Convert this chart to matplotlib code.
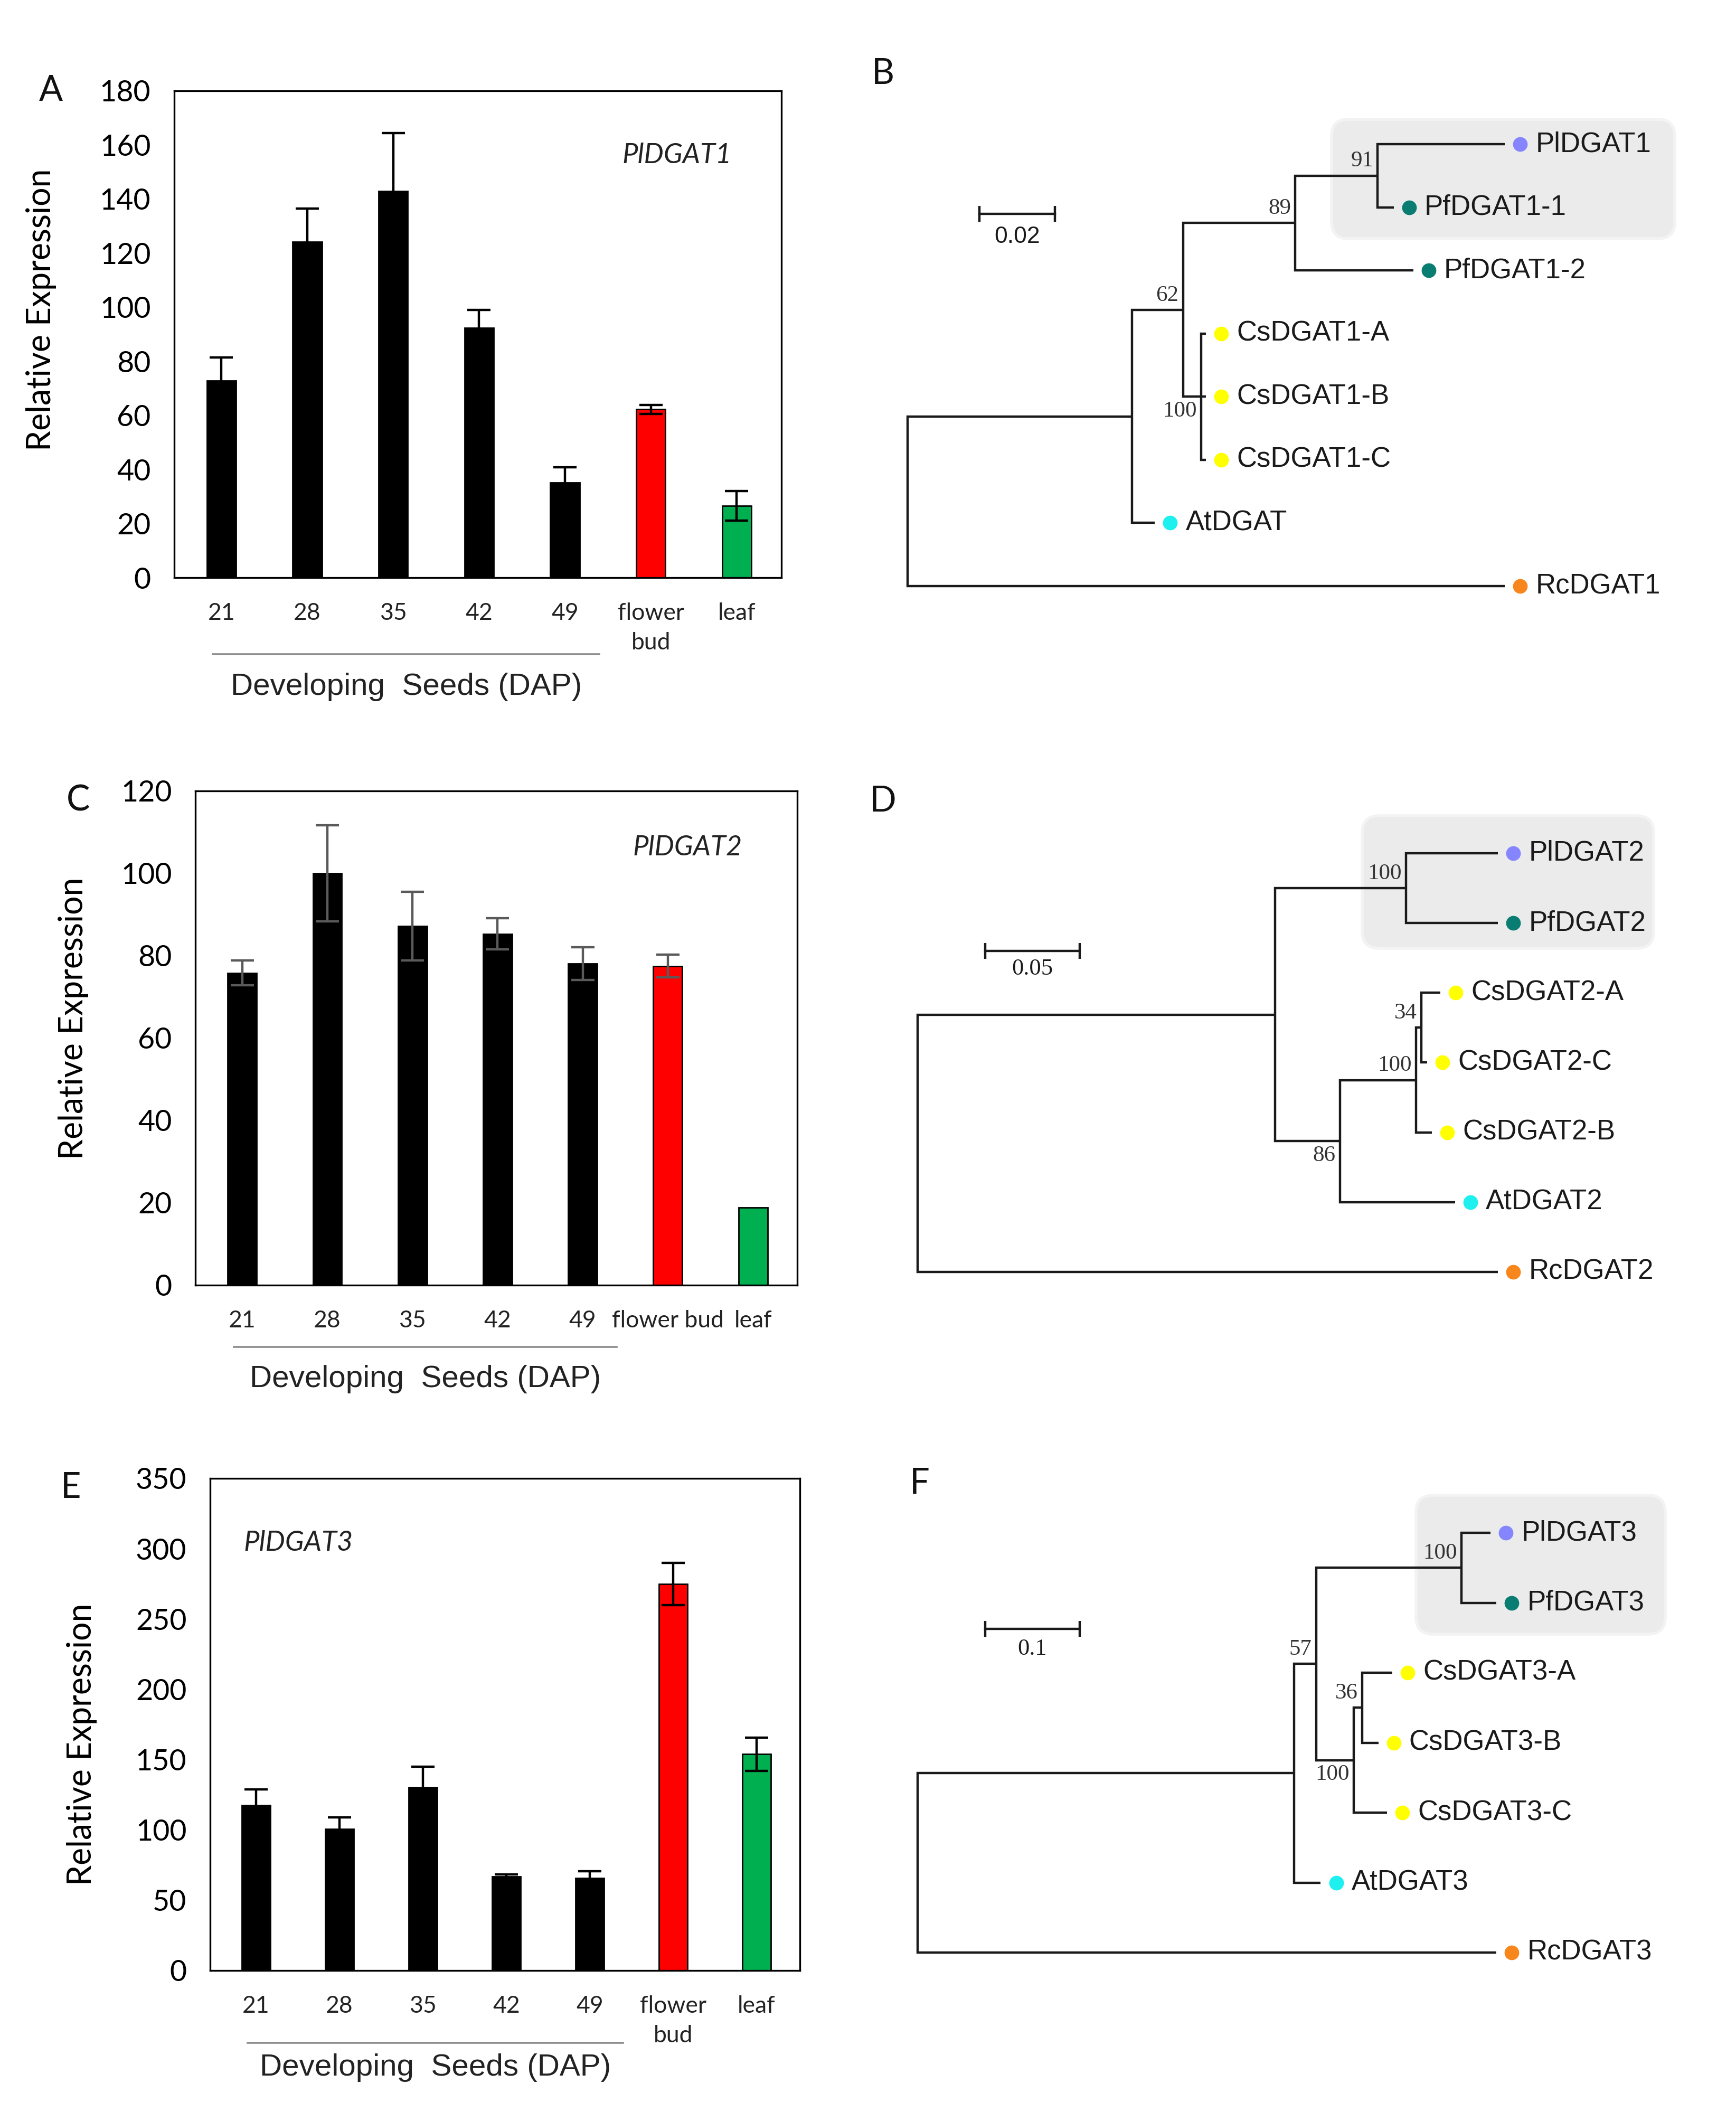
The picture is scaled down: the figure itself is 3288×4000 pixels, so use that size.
"""Relative expression of PlDGAT genes and matching DGAT trees (panels A-F)."""

import matplotlib

matplotlib.use("Agg")
import matplotlib.pyplot as plt
from matplotlib.patches import FancyBboxPatch
from matplotlib.transforms import offset_copy

W, H, DPI = 3288, 4000, 200

# ---- expression data -------------------------------------------------------
samples = ["21", "28", "35", "42", "49", "flower\nbud", "leaf"]
samples_c = ["21", "28", "35", "42", "49", "flower bud", "leaf"]
bar_colors = ["black"] * 5 + ["#ff0000", "#00b050"]

dgat1_expr = [72.8, 124.2, 142.9, 92.3, 35.1, 62.2, 26.5]
dgat1_err = [8.7, 12.2, 21.5, 6.7, 5.7, 1.6, 5.5]
dgat2_expr = [75.8, 100.0, 87.2, 85.3, 78.1, 77.5, 18.9]
dgat2_err = [3.0, 11.7, 8.3, 3.8, 4.0, 2.7, 0.0]
dgat3_expr = [117.4, 100.5, 130.3, 66.8, 65.9, 274.9, 153.9]
dgat3_err = [11.3, 8.3, 14.7, 1.5, 4.6, 15.2, 11.8]

# ---- trees (depth = distance from root, substitutions/site) ----------------
species_colors = {"Pl": "#8585ff", "Pf": "#0a7d73", "Cs": "#ffff00",
                  "At": "#1ef0f0", "Rc": "#f7861c"}

tree1_leaves = ["PlDGAT1", "PfDGAT1-1", "PfDGAT1-2", "CsDGAT1-A",
                "CsDGAT1-B", "CsDGAT1-C", "AtDGAT", "RcDGAT1"]
tree1_depth = [0.158, 0.1286, 0.1338, 0.0789, 0.0789, 0.0789, 0.0654, 0.158]
tree1_nodes = [  # (name, depth, children, bootstrap), children before parents
    ("n91", 0.1244, ["PlDGAT1", "PfDGAT1-1"], "91"),
    ("n89", 0.1026, ["n91", "PfDGAT1-2"], "89"),
    ("ncs", 0.0777, ["CsDGAT1-A", "CsDGAT1-B", "CsDGAT1-C"], "100"),
    ("n62", 0.0729, ["n89", "ncs"], "62"),
    ("nin", 0.0594, ["n62", "AtDGAT"], ""),
    ("root", 0.0, ["nin", "RcDGAT1"], ""),
]

tree2_leaves = ["PlDGAT2", "PfDGAT2", "CsDGAT2-A", "CsDGAT2-C",
                "CsDGAT2-B", "AtDGAT2", "RcDGAT2"]
tree2_depth = [0.3079, 0.3079, 0.2774, 0.2704, 0.2729, 0.2851, 0.3079]
tree2_nodes = [
    ("npl", 0.2591, ["PlDGAT2", "PfDGAT2"], "100"),
    ("n34", 0.2674, ["CsDGAT2-A", "CsDGAT2-C"], "34"),
    ("ncs", 0.2646, ["n34", "CsDGAT2-B"], "100"),
    ("n86", 0.2241, ["ncs", "AtDGAT2"], "86"),
    ("nin", 0.1896, ["npl", "n86"], ""),
    ("root", 0.0, ["nin", "RcDGAT2"], ""),
]

tree3_leaves = ["PlDGAT3", "PfDGAT3", "CsDGAT3-A", "CsDGAT3-B",
                "CsDGAT3-C", "AtDGAT3", "RcDGAT3"]
tree3_depth = [0.607, 0.613, 0.503, 0.488, 0.497, 0.427, 0.613]
tree3_nodes = [
    ("npl", 0.576, ["PlDGAT3", "PfDGAT3"], "100"),
    ("n36", 0.471, ["CsDGAT3-A", "CsDGAT3-B"], "36"),
    ("ncs", 0.462, ["n36", "CsDGAT3-C"], "100"),
    ("n57", 0.422, ["npl", "ncs"], "57"),
    ("nin", 0.399, ["n57", "AtDGAT3"], ""),
    ("root", 0.0, ["nin", "RcDGAT3"], ""),
]

SANS = ["Lato", "DejaVu Sans"]
ARIAL = ["Liberation Sans", "DejaVu Sans"]
SERIF = ["Liberation Serif", "DejaVu Serif"]


def px_box(left, top, right, bottom):
    return [left / W, 1 - bottom / H, (right - left) / W, (bottom - top) / H]


def bar_panel(fig, box, values, errs, labels, ymax, ystep, gene, gene_xy,
              err_color, line_y, title_y, ylab_xy):
    ax = fig.add_axes(px_box(*box))
    xs = range(len(values))
    ax.bar(xs, values, width=0.34, color=bar_colors, edgecolor="black",
           linewidth=1.0, zorder=2)
    for x, v, e in zip(xs, values, errs):
        if e > 0:
            ax.errorbar(x, v, yerr=e, fmt="none", ecolor=err_color,
                        elinewidth=1.6, capsize=8, capthick=1.6, zorder=3)
    ax.set_xlim(-0.55, 6.52)
    ax.set_ylim(0, ymax)
    ax.set_yticks(range(0, ymax + 1, ystep))
    ax.set_xticks(list(xs))
    ax.set_xticklabels(labels, fontsize=16, family=SANS, color="#222222",
                       linespacing=1.45)
    for lab in ax.get_yticklabels():
        lab.set_fontsize(20)
        lab.set_family(SANS)
    ax.tick_params(axis="y", length=0, pad=16)
    ax.tick_params(axis="x", length=0, pad=17)
    for sp in ax.spines.values():
        sp.set_linewidth(1.2)
    ax.set_ylabel("Relative Expression", fontsize=22.5, family=SANS)
    ax.yaxis.set_label_coords(*ylab_xy)
    ax.text(gene_xy[0], gene_xy[1], gene, transform=ax.transAxes,
            fontsize=19, family=SANS, style="italic", ha="center",
            va="center", color="#222222")
    trans = ax.get_xaxis_transform()
    ax.plot([-0.1, 4.4], [line_y, line_y], transform=trans, color="#8c8c8c",
            lw=1.3, clip_on=False)
    ax.text(2.15, title_y, "Developing  Seeds (DAP)", transform=trans,
            fontsize=21, family=ARIAL, ha="center", va="center",
            color="#222222")
    return ax


def draw_tree(fig, box, leaves, depths, nodes, below, bar_x, bar_len,
              bar_y, bar_lab_y, bar_font):
    ax = fig.add_axes(px_box(*box))
    ax.set_xlim(0, max(depths))
    ax.set_ylim(len(leaves) - 1, 0)
    ax.axis("off")

    y = {name: i for i, name in enumerate(leaves)}
    x = dict(zip(leaves, depths))
    for name, depth, children, _ in nodes:
        ys = [y[c] for c in children]
        y[name] = (min(ys) + max(ys)) / 2
        x[name] = depth

    line = dict(color="#1a1a1a", lw=1.6, solid_joinstyle="miter",
                solid_capstyle="butt", clip_on=False)
    for name, depth, children, support in nodes:
        first, last = children[0], children[-1]
        ax.plot([x[first], depth, depth, x[last]],
                [y[first], y[first], y[last], y[last]], **line)
        for c in children[1:-1]:
            ax.plot([depth, x[c]], [y[c], y[c]], **line)
        if support:
            dy = -3 if name in below else 3
            t = offset_copy(ax.transData, fig=fig, x=-3, y=dy, units="points")
            ax.text(depth, y[name], support, transform=t, fontsize=15.5,
                    family=SERIF, color="#333333", ha="right",
                    va="top" if name in below else "bottom")

    dot_t = offset_copy(ax.transData, fig=fig, x=10.5, units="points")
    txt_t = offset_copy(ax.transData, fig=fig, x=21, units="points")
    for name, d in zip(leaves, depths):
        ax.plot(d, y[name], "o", ms=10, mec="none",
                color=species_colors[name[:2]], transform=dot_t,
                clip_on=False)
        ax.text(d, y[name], name, transform=txt_t, fontsize=19, family=ARIAL,
                ha="left", va="center", color="#1a1a1a")

    ax.plot([bar_x, bar_x + bar_len], [bar_y, bar_y], color="#1a1a1a",
            lw=1.6, clip_on=False)
    ax.plot([bar_x, bar_x + bar_len], [bar_y, bar_y], "|", ms=11, mew=1.6,
            color="#1a1a1a", clip_on=False)
    ax.text(bar_x + bar_len / 2, bar_lab_y, f"{bar_len:g}", fontsize=16,
            family=bar_font, ha="center", va="center", color="#1a1a1a")
    return ax


def grey_box(fig, left, top, right, bottom):
    patch = FancyBboxPatch((left / DPI, (H - bottom) / DPI),
                           (right - left) / DPI, (bottom - top) / DPI,
                           boxstyle="round,pad=0,rounding_size=0.16",
                           transform=fig.dpi_scale_trans, facecolor="#ebebeb",
                           edgecolor="#f3f3f3", lw=2, zorder=-1)
    fig.patches.append(patch)


def main():
    fig = plt.figure(figsize=(W / DPI, H / DPI), dpi=DPI)

    grey_box(fig, 2522, 226, 3172, 452)
    grey_box(fig, 2580, 1545, 3132, 1796)
    grey_box(fig, 2682, 2832, 3154, 3095)

    bar_panel(fig, (330, 172, 1480, 1094), dgat1_expr, dgat1_err, samples,
              180, 20, "PlDGAT1", (0.828, 0.868), "black", -0.157, -0.225,
              (-0.194, 0.55))
    bar_panel(fig, (370, 1498, 1510, 2434), dgat2_expr, dgat2_err, samples_c,
              120, 20, "PlDGAT2", (0.818, 0.886), "#5a5a5a", -0.125, -0.19,
              (-0.177, 0.54))
    bar_panel(fig, (398, 2800, 1515, 3732), dgat3_expr, dgat3_err, samples,
              350, 50, "PlDGAT3", (0.150, 0.869), "black", -0.147, -0.197,
              (-0.192, 0.46))

    draw_tree(fig, (1719, 273, 2850, 1110), tree1_leaves, tree1_depth,
              tree1_nodes, {"ncs"}, 0.019, 0.02, 1.1, 1.47, ARIAL)
    draw_tree(fig, (1738, 1616, 2837, 2409), tree2_leaves, tree2_depth,
              tree2_nodes, {"n86"}, 0.036, 0.05, 1.4, 1.66, SERIF)
    draw_tree(fig, (1738, 2903, 2834, 3698), tree3_leaves, tree3_depth,
              tree3_nodes, {"ncs"}, 0.0716, 0.1, 1.37, 1.66, SERIF)

    for letter, (px, py) in zip("ABCDEF", [(96, 172), (1672, 140),
                                           (148, 1516), (1672, 1518),
                                           (134, 2818), (1742, 2810)]):
        fig.text(px / W, 1 - py / H, letter, fontsize=24, family=SANS,
                 ha="center", va="center", color="#111111")

    fig.savefig("out.png", dpi=DPI, facecolor="white")
    plt.close(fig)


if __name__ == "__main__":
    main()
